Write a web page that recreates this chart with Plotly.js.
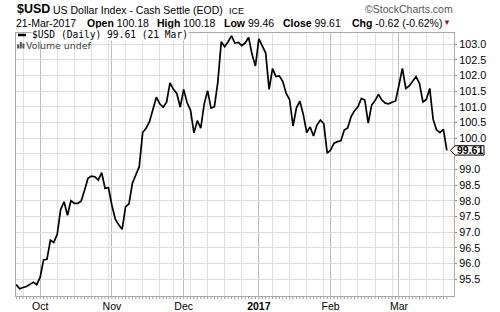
<!DOCTYPE html>
<html><head><meta charset="utf-8">
<script src="https://cdn.plot.ly/plotly-3.0.1.min.js"></script>
<style>html,body{margin:0;padding:0;background:#fff}#chart{width:500px;height:312px}</style>
</head><body><div id="chart"></div>
<script>
const dates = [
"2016-09-22","2016-09-23","2016-09-26","2016-09-27","2016-09-28","2016-09-29","2016-09-30",
"2016-10-03","2016-10-04","2016-10-05","2016-10-06","2016-10-07","2016-10-10","2016-10-11","2016-10-12","2016-10-13","2016-10-14","2016-10-17","2016-10-18","2016-10-19","2016-10-20","2016-10-21","2016-10-24","2016-10-25","2016-10-26","2016-10-27","2016-10-28","2016-10-31",
"2016-11-01","2016-11-02","2016-11-03","2016-11-04","2016-11-07","2016-11-08","2016-11-09","2016-11-10","2016-11-11","2016-11-14","2016-11-15","2016-11-16","2016-11-17","2016-11-18","2016-11-21","2016-11-22","2016-11-23","2016-11-25","2016-11-28","2016-11-29","2016-11-30",
"2016-12-01","2016-12-02","2016-12-05","2016-12-06","2016-12-07","2016-12-08","2016-12-09","2016-12-12","2016-12-13","2016-12-14","2016-12-15","2016-12-16","2016-12-19","2016-12-20","2016-12-21","2016-12-22","2016-12-23","2016-12-26","2016-12-27","2016-12-28","2016-12-29","2016-12-30",
"2017-01-03","2017-01-04","2017-01-05","2017-01-06","2017-01-09","2017-01-10","2017-01-11","2017-01-12","2017-01-13","2017-01-16","2017-01-17","2017-01-18","2017-01-19","2017-01-20","2017-01-23","2017-01-24","2017-01-25","2017-01-26","2017-01-27","2017-01-30","2017-01-31",
"2017-02-01","2017-02-02","2017-02-03","2017-02-06","2017-02-07","2017-02-08","2017-02-09","2017-02-10","2017-02-13","2017-02-14","2017-02-15","2017-02-16","2017-02-17","2017-02-20","2017-02-21","2017-02-22","2017-02-23","2017-02-24","2017-02-27","2017-02-28",
"2017-03-01","2017-03-02","2017-03-03","2017-03-06","2017-03-07","2017-03-08","2017-03-09","2017-03-10","2017-03-13","2017-03-14","2017-03-15","2017-03-16","2017-03-17","2017-03-20","2017-03-21"];

const closes = [
95.32,95.19,95.23,95.26,95.33,95.40,95.32,
95.55,96.11,96.13,96.74,96.67,96.93,97.72,97.97,97.54,98.00,97.92,97.92,97.99,98.34,98.72,98.79,98.77,98.66,98.90,98.40,98.42,
97.85,97.41,97.23,97.09,97.81,97.90,98.56,98.82,99.09,100.18,100.32,100.53,100.90,101.31,101.10,100.99,101.15,101.77,101.56,101.43,100.99,
101.56,101.13,100.90,100.17,100.56,100.32,101.09,101.52,100.96,101.01,101.80,103.08,102.92,103.08,103.27,103.04,103.06,102.96,103.04,103.22,102.68,102.31,
103.17,102.95,102.72,101.56,102.22,101.97,101.99,101.81,101.43,101.23,100.39,100.97,101.18,100.76,100.18,100.36,100.07,100.42,100.58,100.46,99.52,
99.62,99.84,99.89,99.92,100.26,100.33,100.69,100.88,101.00,101.27,101.22,100.48,101.06,101.20,101.40,101.22,101.12,101.10,101.15,101.19,
101.70,102.23,101.59,101.67,101.82,101.97,101.75,101.16,101.24,101.59,100.60,100.26,100.18,100.28,99.61];

const monthLabels = ["Oct","Nov","Dec","<b>2017</b>","Feb","Mar"];
const yTicks = [95.5,96.0,96.5,97.0,97.5,98.0,98.5,99.0,99.5,100.0,100.5,101.0,101.5,102.0,102.5,103.0];

const W=500,H=312,L=16,R=46,T=33,B=16;
const pw=W-L-R, ph=H-T-B;
const px = x => (x-L)/pw;
const py = y => (H-B-y)/ph;

const monthStarts = [], weekStarts = [];
for (let i=1;i<dates.length;i++){
  const d=new Date(dates[i]+"T00:00:00Z"), p=new Date(dates[i-1]+"T00:00:00Z");
  if (d.getUTCMonth()!==p.getUTCMonth()) monthStarts.push(dates[i]);
  if (d.getUTCDay()<p.getUTCDay()) weekStarts.push(dates[i]);
}

const last = closes[closes.length-1];
const FONT = "Liberation Sans, Arial, sans-serif";

const shapes = [];
dates.forEach(d => shapes.push({type:"line", xref:"x", yref:"paper", x0:d, x1:d, y0:-0.004, y1:-0.012, line:{color:"#9a9a9a", width:1}}));
const bx0=px(450.5), bx1=px(455), bx2=px(484);
shapes.push({type:"path", xref:"paper", yref:"y", layer:"above",
  path:`M ${bx0} ${last} L ${bx1} ${last+0.15} L ${bx2} ${last+0.15} L ${bx2} ${last-0.15} L ${bx1} ${last-0.15} Z`,
  fillcolor:"#fff", line:{color:"#000", width:1}});
[[17,19.2,44.5],[19.8,21.8,42],[22.4,24.4,43.5]].forEach(b => shapes.push({type:"rect", xref:"paper", yref:"paper",
  x0:px(b[0]), x1:px(b[1]), y0:py(48.5), y1:py(b[2]), fillcolor:"#555", line:{width:0}, layer:"above"}));
shapes.push({type:"line", xref:"paper", yref:"paper", x0:px(18), x1:px(26), y0:py(35), y1:py(35), line:{color:"#000", width:2.5}, layer:"above"});

function ann(text, x, y, size, opts){
  return Object.assign({text, xref:"paper", yref:"paper", x:px(x), y:py(y), xanchor:"left", yanchor:"middle",
    showarrow:false, borderpad:0, font:{family:FONT, size, color:"#000"}}, opts||{});
}
const annotations = [
  ann("<b>$USD</b>", 15.5, 9.5, 12.5),
  ann("US Dollar Index - Cash Settle (EOD)", 52, 10, 10.5),
  ann("ICE", 228, 10.5, 9),
  ann("\u00a9StockCharts.com", 364, 9.5, 10.5, {font:{family:FONT,size:10.5,color:"#555"}}),
  ann("21-Mar-2017", 15, 22.5, 10.5),
  ann("<b>Open</b> 100.18", 86, 22.5, 10.5),
  ann("<b>High</b> 100.18", 156, 22.5, 10.5),
  ann("<b>Low</b> 99.46", 223, 22.5, 10.5),
  ann("<b>Close</b> " + last.toFixed(2), 282, 22.5, 10.5),
  ann("<b>Chg</b> -0.62 (-0.62%)", 351, 22.5, 10.5),
  ann("\u25bc", 442, 22.5, 8, {font:{family:FONT,size:8,color:"#b00020"}}),
  ann("$USD (Daily) " + last.toFixed(2) + " (21 Mar)", 30.5, 35, 9.6, {bgcolor:"#fff", font:{family:"DejaVu Sans Mono, monospace", size:9.6, color:"#000"}}),
  ann("Volume undef", 25, 45.5, 9.4, {font:{family:"DejaVu Sans, sans-serif", size:9.4, color:"#444"}}),
  {text:"<b>"+last.toFixed(2)+"</b>", xref:"paper", yref:"y", x:px(469.5), y:last, xanchor:"center", yanchor:"middle",
   showarrow:false, borderpad:0, font:{family:FONT, size:10.5, color:"#000"}}
];

const trace = {x:dates, y:closes, type:"scatter", mode:"lines", line:{color:"#000", width:1.7}, hoverinfo:"skip"};

const layout = {
  width:W, height:H, margin:{l:L, r:R, t:T, b:B, pad:0},
  paper_bgcolor:"#fff", plot_bgcolor:"#fff", showlegend:false,
  font:{family:FONT, size:10.5, color:"#000"},
  xaxis:{type:"category", range:[-0.06, 128.1], tickmode:"array", tickvals:monthStarts, ticktext:monthLabels,
    showgrid:true, gridcolor:"#bdbdbd", gridwidth:1, ticks:"", tickfont:{family:FONT, size:10.5},
    showline:true, mirror:true, linecolor:"#a8a8a8", linewidth:1, zeroline:false, fixedrange:true,
    minor:{tickmode:"array", tickvals:weekStarts, showgrid:true, gridcolor:"#e0e0e0", gridwidth:1, ticks:""}},
  yaxis:{side:"right", range:[94.958, 103.361], tickmode:"array", tickvals:yTicks,
    ticktext:yTicks.map(v => Math.abs(v-Math.round(last*2)/2)<1e-9 ? "" : v.toFixed(1)),
    showgrid:true, gridcolor:"#dedede", gridwidth:1, ticks:"outside", ticklen:2, tickcolor:"#888",
    tickfont:{family:FONT, size:10.8}, showline:true, mirror:true, linecolor:"#a8a8a8", linewidth:1, zeroline:false, fixedrange:true},
  shapes, annotations
};
Plotly.newPlot("chart", [trace], layout, {staticPlot:true, displayModeBar:false});
</script></body></html>
